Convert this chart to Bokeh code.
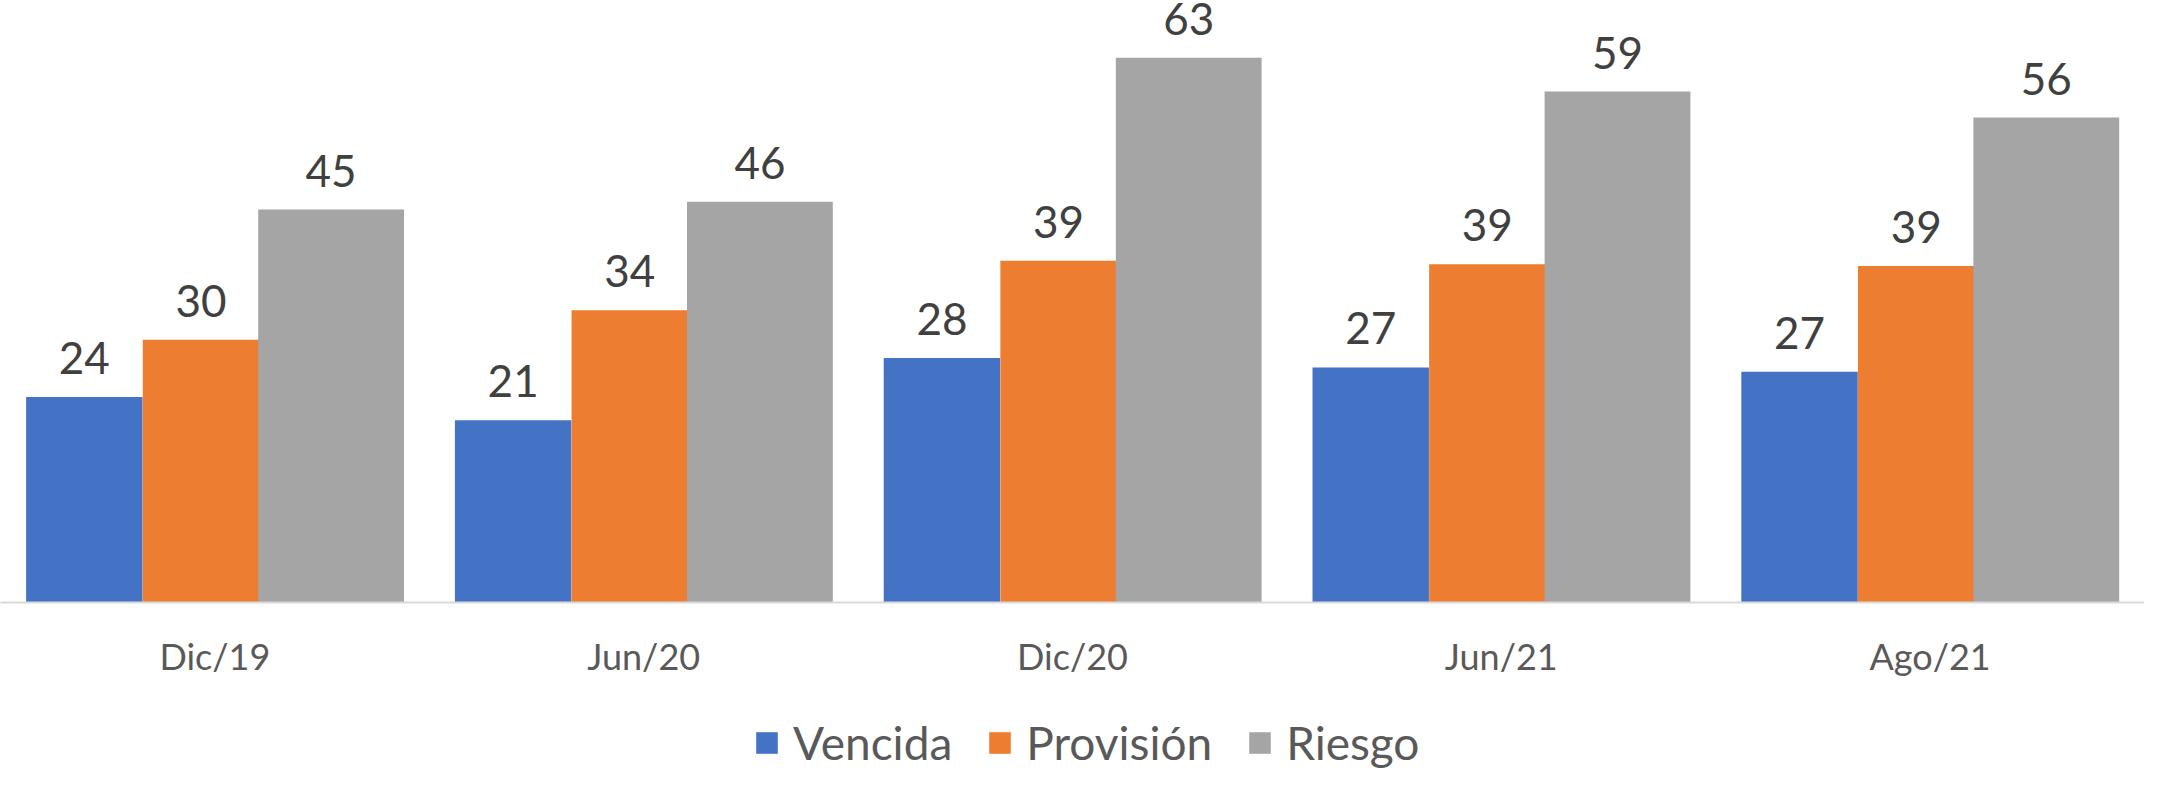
from bokeh.plotting import figure
from bokeh.models import ColumnDataSource, Legend, LegendItem, Range1d
from bokeh.layouts import column
from bokeh.transform import dodge
from bokeh.core.properties import value
from bokeh.embed import file_html
from bokeh.resources import INLINE

categories = ["Dic/19", "Jun/20", "Dic/20", "Jun/21", "Ago/21"]
series_names = ["Vencida", "Provisión", "Riesgo"]
# bar heights (labels show them rounded)
vencida = [23.7, 21.0, 28.2, 27.1, 26.6]
provision = [30.3, 33.7, 39.4, 39.0, 38.8]
riesgo = [45.3, 46.2, 62.8, 58.9, 55.9]

colors = ["#4472C4", "#ED7D31", "#A5A5A5"]
FONT = "Lato"

src = ColumnDataSource(dict(
    cat=categories,
    vencida=vencida,
    provision=provision,
    riesgo=riesgo,
    vencida_t=[f"{v:.0f}" for v in vencida],
    provision_t=[f"{v:.0f}" for v in provision],
    riesgo_t=[f"{v:.0f}" for v in riesgo],
))

p = figure(x_range=categories, y_range=Range1d(0, 69.4), width=2144, height=680,
           output_backend="svg", toolbar_location=None,
           min_border_left=0, min_border_right=0, min_border_top=0, min_border_bottom=0)
p.outline_line_color = None
p.xgrid.grid_line_color = None
p.ygrid.grid_line_color = None
p.yaxis.visible = False
p.x_range.range_padding = 0

offsets = [-0.3045, -0.0325, 0.271]
widths = [0.2715, 0.2715, 0.340]
cols = ["vencida", "provision", "riesgo"]
for col, off, w, c in zip(cols, offsets, widths, colors):
    p.vbar(x=dodge("cat", off, range=p.x_range), top=col, width=w, bottom=0,
           source=src, fill_color=c, line_color=None)
    p.text(x=dodge("cat", off, range=p.x_range), y=col, text=col + "_t", source=src,
           text_align="center", text_baseline="middle", y_offset=-39,
           text_font=value(FONT), text_font_size="44px", text_color="#404040")

ax = p.xaxis[0]
ax.axis_line_color = "#D9D9D9"
ax.axis_line_width = 2
ax.major_tick_line_color = None
ax.minor_tick_line_color = None
ax.major_label_standoff = 25
ax.major_label_text_font = FONT
ax.major_label_text_font_size = "36px"
ax.major_label_text_color = "#595959"

# legend strip
p2 = figure(x_range=Range1d(0, 1), y_range=Range1d(0, 1), width=2144, height=91,
            output_backend="svg", toolbar_location=None,
            x_axis_location=None, y_axis_location=None,
            min_border_left=0, min_border_right=0, min_border_top=0, min_border_bottom=0)
p2.outline_line_color = None
p2.xgrid.grid_line_color = None
p2.ygrid.grid_line_color = None
dummies = [p2.vbar(x=[10], top=[1], width=0.1, fill_color=c, line_color=None) for c in colors]

legend = Legend(items=[LegendItem(label=n, renderers=[r]) for n, r in zip(series_names, dummies)],
                orientation="horizontal", location=(753, 1),
                label_text_font=FONT, label_text_font_size="46px", label_text_color="#595959",
                glyph_width=27, glyph_height=27, label_standoff=13, spacing=34,
                border_line_color=None, background_fill_alpha=0, padding=0, margin=0)
p2.add_layout(legend, "center")

layout = column(p, p2, spacing=0)
open("out.html", "w").write(file_html(layout, INLINE))
